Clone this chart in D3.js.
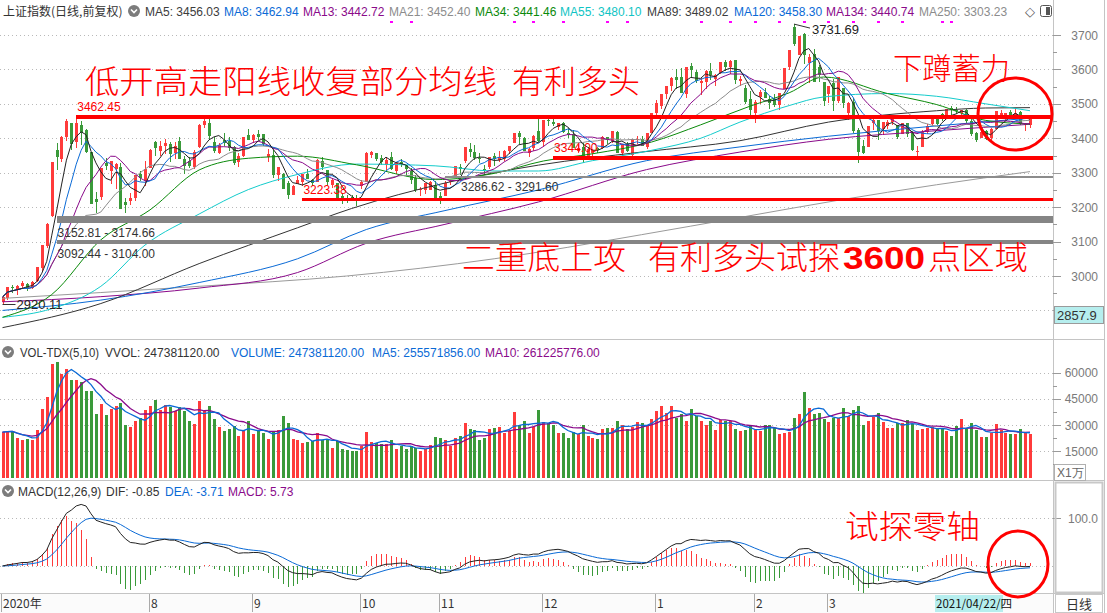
<!DOCTYPE html>
<html>
<head>
<meta charset="utf-8">
<script src="https://cdn.jsdelivr.net/npm/d3@7"></script>
<style>
  body { margin: 0; background: #fff; }
  svg { display: block; font-family: "Liberation Sans", Arial, sans-serif; }
</style>
</head>
<body>
<svg id="chart" width="1107" height="613"></svg>
<script>
// trading days shown, 2020-06-18 .. 2021-04-28
const tradeDays = [
  "2020-06-18","2020-06-19","2020-06-22","2020-06-23","2020-06-24","2020-06-29","2020-06-30",
  "2020-07-01","2020-07-02","2020-07-03","2020-07-06","2020-07-07","2020-07-08","2020-07-09","2020-07-10","2020-07-13","2020-07-14","2020-07-15","2020-07-16","2020-07-17","2020-07-20","2020-07-21","2020-07-22","2020-07-23","2020-07-24","2020-07-27","2020-07-28","2020-07-29","2020-07-30","2020-07-31",
  "2020-08-03","2020-08-04","2020-08-05","2020-08-06","2020-08-07","2020-08-10","2020-08-11","2020-08-12","2020-08-13","2020-08-14","2020-08-17","2020-08-18","2020-08-19","2020-08-20","2020-08-21","2020-08-24","2020-08-25","2020-08-26","2020-08-27","2020-08-28","2020-08-31",
  "2020-09-01","2020-09-02","2020-09-03","2020-09-04","2020-09-07","2020-09-08","2020-09-09","2020-09-10","2020-09-11","2020-09-14","2020-09-15","2020-09-16","2020-09-17","2020-09-18","2020-09-21","2020-09-22","2020-09-23","2020-09-24","2020-09-25","2020-09-28","2020-09-29","2020-09-30",
  "2020-10-09","2020-10-12","2020-10-13","2020-10-14","2020-10-15","2020-10-16","2020-10-19","2020-10-20","2020-10-21","2020-10-22","2020-10-23","2020-10-26","2020-10-27","2020-10-28","2020-10-29","2020-10-30",
  "2020-11-02","2020-11-03","2020-11-04","2020-11-05","2020-11-06","2020-11-09","2020-11-10","2020-11-11","2020-11-12","2020-11-13","2020-11-16","2020-11-17","2020-11-18","2020-11-19","2020-11-20","2020-11-23","2020-11-24","2020-11-25","2020-11-26","2020-11-27","2020-11-30",
  "2020-12-01","2020-12-02","2020-12-03","2020-12-04","2020-12-07","2020-12-08","2020-12-09","2020-12-10","2020-12-11","2020-12-14","2020-12-15","2020-12-16","2020-12-17","2020-12-18","2020-12-21","2020-12-22","2020-12-23","2020-12-24","2020-12-25","2020-12-28","2020-12-29","2020-12-30","2020-12-31",
  "2021-01-04","2021-01-05","2021-01-06","2021-01-07","2021-01-08","2021-01-11","2021-01-12","2021-01-13","2021-01-14","2021-01-15","2021-01-18","2021-01-19","2021-01-20","2021-01-21","2021-01-22","2021-01-25","2021-01-26","2021-01-27","2021-01-28","2021-01-29",
  "2021-02-01","2021-02-02","2021-02-03","2021-02-04","2021-02-05","2021-02-08","2021-02-09","2021-02-10","2021-02-18","2021-02-19","2021-02-22","2021-02-23","2021-02-24","2021-02-25","2021-02-26",
  "2021-03-01","2021-03-02","2021-03-03","2021-03-04","2021-03-05","2021-03-08","2021-03-09","2021-03-10","2021-03-11","2021-03-12","2021-03-15","2021-03-16","2021-03-17","2021-03-18","2021-03-19","2021-03-22","2021-03-23","2021-03-24","2021-03-25","2021-03-26","2021-03-29","2021-03-30","2021-03-31",
  "2021-04-01","2021-04-02","2021-04-06","2021-04-07","2021-04-08","2021-04-09","2021-04-12","2021-04-13","2021-04-14","2021-04-15","2021-04-16","2021-04-19","2021-04-20","2021-04-21","2021-04-22","2021-04-23","2021-04-26","2021-04-27","2021-04-28"
];

const opens = [
  2925,2937,2968,2958,2972,2977,2964,
  2985,3023,3088,3173,3365,3341,3403,3444,3388,3440,3425,3359,3225,3230,3327,3305,3312,3316,3214,3218,3226,3296,3279,
  3314,3389,3362,3378,3382,3358,3391,3339,3335,3318,3376,3440,3444,3390,3357,3396,3392,3376,3332,3348,3409,
  3395,3412,3411,3345,3352,3294,3295,3270,3236,3268,3273,3297,3279,3273,3333,3307,3264,3270,3231,3226,3229,3227,
  3262,3272,3351,3356,3344,3323,3347,3304,3331,3323,3305,3286,3252,3249,3251,3265,
  3232,3232,3275,3289,3316,3334,3370,3360,3344,3312,3316,3349,3338,3341,3364,3385,3414,3402,3356,3371,3420,
  3389,3454,3447,3434,3445,3416,3412,3362,3374,3349,3357,3372,3371,3404,3391,3419,3357,3383,3352,3396,3398,3375,3416,
  3474,3493,3530,3552,3577,3578,3528,3609,3592,3560,3563,3594,3571,3589,3622,3607,3626,3566,3545,3513,
  3474,3519,3535,3515,3515,3496,3543,3606,3722,3643,3704,3618,3646,3608,3563,
  3528,3561,3509,3545,3472,3504,3424,3377,3376,3443,3454,3427,3436,3447,3440,3412,3443,3416,3359,3376,3419,3442,3459,
  3470,3466,3488,3483,3474,3482,3450,3414,3402,3420,3400,3427,3468,3459,3476,3463,3476,3438,3440
];
const highs = [
  2945,2968,2974,2975,2985,2980,2986,
  3025,3091,3153,3332,3387,3407,3457,3444,3462.45,3450,3426,3359,3243,3314,3344,3334,3328,3328,3226,3241,3294,3306,3333,
  3369,3391,3392,3398,3390,3389,3403,3348,3345,3366,3442,3456,3455,3404,3385,3415,3404,3378,3358,3405,3426,
  3411,3425,3413,3368,3367,3318,3299,3277,3264,3290,3297,3311,3283,3340,3346,3307,3283,3271,3240,3235,3236,3236,
  3280,3359,3362,3356,3352,3343,3359,3328,3339,3323,3313,3293,3259,3270,3275,3277,
  3244,3277,3279,3320,3324,3374,3387,3381,3358,3322,3347,3358,3364,3365,3378,3415,3420,3405,3371,3409,3456,
  3452,3465,3456,3445,3447,3431,3423,3380,3386,3374,3368,3376,3407,3405,3421,3420,3383,3388,3397,3407,3406,3415,3474,
  3511,3528,3550,3577,3600,3604,3608,3619,3598,3575,3597,3619,3588,3622,3627,3627,3627,3580,3554,3538,
  3510,3539,3547,3522,3530,3532,3604,3655,3731.69,3697,3705,3645,3658,3612,3564,
  3552,3573,3577,3546,3506,3518,3429,3394,3437,3468,3454,3446,3454,3463,3440,3444,3445,3422,3377,3424,3441,3459,3460,
  3474,3485,3494,3490,3483,3484,3456,3418,3425,3424,3429,3477,3481,3473,3481,3488,3480,3445,3460
];
const lows = [
  2920.11,2930,2951,2944,2965,2955,2962,
  2983,3015,3080,3170,3307,3331,3393,3366,3373,3381,3357,3208,3184,3220,3308,3268,3254,3195,3183,3205,3219,3276,3260,
  3313,3350,3348,3353,3330,3340,3339,3296,3313,3311,3373,3430,3398,3356,3355,3378,3363,3322,3318,3347,3395,
  3387,3394,3379,3332,3285,3276,3254,3223,3235,3267,3260,3283,3260,3272,3307,3260,3257,3221,3210,3211,3220,3202,
  3253,3272,3344,3334,3323,3307,3309,3297,3318,3291,3266,3245,3232,3239,3250,3220,
  3209,3232,3263,3287,3293,3329,3345,3336,3329,3293,3312,3319,3332,3334,3353,3385,3382,3362,3345,3364,3390,
  3376,3437,3435,3424,3414,3400,3372,3357,3327,3343,3347,3356,3370,3384,3386,3356,3346,3360,3350,3383,3379,3369,3416,
  3457,3485,3513,3538,3544,3531,3517,3578,3562,3527,3542,3569,3553,3586,3594,3587,3558,3551,3500,3465,
  3444,3501,3516,3486,3491,3483,3543,3599,3668,3643,3616,3560,3564,3564,3494,
  3502,3480,3502,3489,3453,3416,3328,3353,3375,3425,3396,3410,3427,3439,3399,3412,3404,3364,3345,3376,3413,3436,3438,
  3450,3458,3467,3470,3458,3444,3407,3388,3402,3394,3389,3426,3455,3450,3461,3462,3438,3421,3431
];
const closes = [
  2939,2967,2965,2970,2979,2962,2984,
  3025,3090,3152,3332,3345,3403,3450,3383,3443,3415,3361,3210,3214,3314,3320,3333,3325,3196,3205,3228,3294,3286,3310,
  3367,3371,3377,3386,3354,3379,3340,3319,3320,3360,3438,3451,3408,3363,3380,3385,3373,3329,3350,3403,3395,
  3410,3404,3384,3355,3292,3316,3254,3234,3260,3278,3295,3283,3270,3338,3316,3274,3279,3223,3219,3217,3224,3218,
  3272,3358,3360,3340,3332,3336,3312,3328,3325,3312,3278,3251,3254,3269,3273,3225,
  3225,3271,3277,3320,3312,3374,3360,3342,3339,3310,3347,3340,3347,3363,3378,3414,3403,3362,3370,3408,3392,
  3452,3449,3442,3445,3417,3410,3372,3373,3347,3369,3367,3367,3405,3395,3421,3357,3382,3363,3397,3397,3379,3414,3473,
  3503,3529,3551,3576,3570,3531,3608,3599,3566,3566,3596,3583,3584,3621,3607,3624,3569,3573,3505,3483,
  3505,3534,3517,3502,3496,3532,3603,3655,3675,3696,3642,3636,3564,3585,3509,
  3551,3509,3577,3503,3502,3421,3359,3358,3437,3453,3420,3447,3446,3463,3405,3443,3412,3367,3364,3418,3435,3457,3442,
  3466,3484,3483,3480,3483,3451,3413,3396,3417,3399,3427,3478,3473,3472,3465,3474,3441,3443,3457
];
// volume, unit 10^4 hands
const volumes = [
  25920,26500,26500,22460,21310,21890,21310,
  27070,39170,46080,65090,66240,59330,62210,55870,55870,54720,49540,49540,36290,42050,35710,39170,40900,42620,29950,28800,32260,33980,38590,
  40900,44350,38590,41470,40320,38020,40320,38020,32260,30530,43780,38020,40900,33410,28800,26500,27650,29380,23620,26500,32260,
  24770,26500,25340,21890,25920,27070,35140,31100,21890,21310,19580,20160,20740,25340,21310,21890,16700,20740,16130,15550,14980,14980,
  17860,25920,20160,19580,19010,19010,21310,16130,17860,16130,17860,16700,14980,16130,18430,23040,
  22460,21310,17860,22460,23620,31100,27650,27070,21310,22460,27650,28220,28800,25340,26500,37440,29950,32260,25340,28800,38590,
  31680,31100,29950,25340,25340,22460,25920,24770,29950,23620,22460,21890,27650,28220,28220,32260,29950,27650,28800,31680,31100,29380,33410,
  38020,40900,36860,40900,33980,36290,32260,39170,35140,32260,29950,32260,27070,32830,32260,32260,27650,26500,27070,29380,
  27070,26500,29950,29950,28220,24770,25340,25920,33980,36290,48960,39740,36290,36860,33410,
  31680,33980,33980,39740,35140,38590,40900,29950,32260,34560,36860,31680,28220,28220,31100,31100,32830,30530,27070,27650,28220,28800,27650,
  27650,26500,23620,29380,33410,27650,31100,27070,23040,23040,25340,30530,27070,25340,24770,24770,27650,25920,24738
];

// long moving averages: [day index, value]
const ma34Pts  = [[0,2880],[10,2946],[20,3105],[30,3192],[40,3308],[50,3342],[60,3348],[72,3323],[88,3280],[100,3298],[110,3334],[120,3355],[132,3389],[142,3439],[152,3493],[160,3532],[167,3578],[180,3530],[190,3498],[200,3452],[209,3441.46]];
const ma55Pts  = [[0,2880],[10,2905],[20,2970],[29,3090],[40,3180],[50,3251],[60,3295],[72,3325],[88,3320],[100,3305],[109,3305],[120,3335],[132,3365],[142,3400],[150,3447],[160,3495],[167,3520],[180,3530],[190,3522],[200,3500],[209,3480.10]];
const ma89Pts  = [[0,2850],[20,2920],[40,3036],[60,3140],[71,3196],[90,3270],[109,3322],[130,3360],[150,3393],[168,3447],[190,3480],[200,3488],[209,3489.02]];
const ma120Pts = [[0,2900],[20,2930],[40,2981],[60,3050],[74,3135],[90,3190],[109,3250],[131,3335],[150,3375],[168,3406],[190,3436],[209,3458.30]];
const ma134Pts = [[0,2925],[20,2940],[40,2965],[60,3010],[74,3095],[90,3150],[109,3215],[131,3309],[150,3360],[168,3397],[190,3422],[209,3440.74]];
const ma250Pts = [[0,2935],[40,2970],[70,3000],[100,3050],[130,3120],[150,3170],[170,3220],[190,3265],[209,3303.23]];

const priceTicks = [3000, 3100, 3200, 3300, 3400, 3500, 3600, 3700];
const volTicks = [15000, 30000, 45000, 60000];
const macdTicks = [100];

const monthLabels = ["2020年", "8", "9", "10", "11", "12", "1", "2", "3"];
const monthStarts = ["2020-06-18","2020-08-03","2020-09-01","2020-10-09","2020-11-02","2020-12-01","2021-01-04","2021-02-01","2021-03-01"];

// drawn support / resistance levels
const levelValues = [3462.45, 3344.00, 3223.38];
const levelStarts = ["2020-07-13", "2020-12-03", "2020-09-15"];
const zoneLows  = [3152.81, 3092.44, 3286.62];
const zoneHighs = [3174.66, 3104.00, 3291.60];
const zoneStarts = ["2020-07-07", "2020-07-07", "2020-11-03"];

// small info markers under the header
const markerDays = [79, 83, 104, 108, 114, 123, 127, 142, 148, 153, 158, 163, 168, 173, 178, 183, 191, 193];

const maHeader = [
  ["MA5: 3456.03", "#3c3c3c", 145], ["MA8: 3462.94", "#0a6ad6", 224], ["MA13: 3442.72", "#8a0a8a", 303],
  ["MA21: 3452.40", "#8c8c8c", 389], ["MA34: 3441.46", "#0a8a0a", 475], ["MA55: 3480.10", "#10c4c4", 560],
  ["MA89: 3489.02", "#3c3c3c", 647], ["MA120: 3458.30", "#0a6ad6", 734], ["MA134: 3440.74", "#8a0a8a", 826],
  ["MA250: 3303.23", "#8c8c8c", 919]
];

const RED = "#ff3b3b", GRN = "#3a9a3a", GRID = "#b9b9b9", BORDER = "#c4c4c4";
const AXIS_TXT = "#7a7a7a";
const PLOT_R = 1053;

const svg = d3.select("#chart");
const n = closes.length;
const dayIndex = new Map(tradeDays.map((d, i) => [d, i]));

const x = d3.scaleLinear().domain([0, n - 1]).range([2.5, 1030]);
const px = i => Math.round(x(i));
const yP = d3.scaleLinear().domain([3000, 3700]).range([276, 35]);
const yV = d3.scaleLinear().domain([0, 60000]).range([477.5, 372.5]);
const yM = d3.scaleLinear().domain([0, 100]).range([566, 518]);

const isUp = i => closes[i] >= opens[i];

function sma(arr, len) {
  return arr.map((d, i) => d3.mean(arr.slice(Math.max(0, i - len + 1), i + 1)));
}
function ema(arr, len) {
  const a = 2 / (len + 1);
  let prev = arr[0];
  return arr.map(v => (prev = a * v + (1 - a) * prev));
}

// clip paths
const defs = svg.append("defs");
[["clipMain", 20, 320], ["clipVol", 362, 118], ["clipMacd", 500, 93]].forEach(([id, y0, h]) => {
  defs.append("clipPath").attr("id", id).append("rect").attr("x", 0).attr("y", y0).attr("width", PLOT_R).attr("height", h);
});

// ---------- frame ----------
const frame = svg.append("g").attr("shape-rendering", "crispEdges");
[339.5, 480.5, 593.5].forEach(yy => {
  frame.append("line").attr("x1", 0).attr("x2", 1105).attr("y1", yy).attr("y2", yy).attr("stroke", BORDER);
});
frame.append("line").attr("x1", PLOT_R + 0.5).attr("x2", PLOT_R + 0.5).attr("y1", 0).attr("y2", 613).attr("stroke", BORDER);
frame.append("line").attr("x1", 1104.5).attr("x2", 1104.5).attr("y1", 0).attr("y2", 613).attr("stroke", BORDER);

// ---------- grid ----------
const grid = svg.append("g").attr("stroke", GRID).attr("stroke-dasharray", "1,3").attr("shape-rendering", "crispEdges");
priceTicks.concat([2900]).forEach(v => grid.append("line").attr("x1", 0).attr("x2", PLOT_R).attr("y1", Math.round(yP(v)) + 0.5).attr("y2", Math.round(yP(v)) + 0.5));
volTicks.forEach(v => grid.append("line").attr("x1", 0).attr("x2", PLOT_R).attr("y1", Math.round(yV(v)) + 0.5).attr("y2", Math.round(yV(v)) + 0.5));
macdTicks.concat([0]).forEach(v => grid.append("line").attr("x1", 0).attr("x2", PLOT_R).attr("y1", Math.round(yM(v)) + 0.5).attr("y2", Math.round(yM(v)) + 0.5));

// ---------- right axes ----------
const ax = svg.append("g").attr("font-size", 12).attr("fill", AXIS_TXT);
function rightTicks(scale, major, minorStep, lo, hi) {
  for (let v = lo; v <= hi; v += minorStep) {
    const yy = Math.round(scale(v)) + 0.5;
    const isMajor = major.includes(v);
    ax.append("line").attr("x1", PLOT_R).attr("x2", PLOT_R + (isMajor ? 8 : 4)).attr("y1", yy).attr("y2", yy)
      .attr("stroke", "#9a9a9a").attr("shape-rendering", "crispEdges");
  }
  major.forEach(v => ax.append("text").attr("x", 1098).attr("y", scale(v) + 4.5).attr("text-anchor", "end").text(v));
}
rightTicks(yP, priceTicks, 50, 2900, 3700);
rightTicks(yV, volTicks, 7500, 7500, 60000);
macdTicks.forEach(v => {
  ax.append("line").attr("x1", PLOT_R).attr("x2", PLOT_R + 8).attr("y1", Math.round(yM(v)) + 0.5).attr("y2", Math.round(yM(v)) + 0.5).attr("stroke", "#9a9a9a");
  ax.append("text").attr("x", 1098).attr("y", yM(v) + 4.5).attr("text-anchor", "end").text(d3.format(".1f")(v));
});
svg.append("rect").attr("x", 1055.5).attr("y", 482.5).attr("width", 47).attr("height", 110).attr("fill", "none").attr("stroke", "#c8c8c8").attr("stroke-width", 2);
svg.append("rect").attr("x", 1054.5).attr("y", 306.5).attr("width", 49).attr("height", 17).attr("fill", "#b6eeee").attr("stroke", "#9a9a9a");
svg.append("text").attr("x", 1057).attr("y", 320).attr("font-size", 13).attr("fill", "#333").text("2857.9");
svg.append("rect").attr("x", 1054.5).attr("y", 464.5).attr("width", 31).attr("height", 16).attr("fill", "#fff").attr("stroke", "#b0b0b0");
svg.append("text").attr("x", 1057).attr("y", 477).attr("font-size", 12).attr("fill", "#666").text("X1万");

// ---------- candles ----------
const gMain = svg.append("g").attr("clip-path", "url(#clipMain)");
const idx = d3.range(n);
gMain.append("g").attr("shape-rendering", "crispEdges").selectAll("line").data(idx).join("line")
  .attr("x1", i => px(i) + 0.5).attr("x2", i => px(i) + 0.5)
  .attr("y1", i => yP(highs[i])).attr("y2", i => yP(lows[i]))
  .attr("stroke", i => isUp(i) ? RED : GRN);
gMain.append("g").attr("shape-rendering", "crispEdges").selectAll("rect").data(idx).join("rect")
  .attr("x", i => px(i) - 1).attr("width", 3)
  .attr("y", i => yP(Math.max(opens[i], closes[i])))
  .attr("height", i => Math.max(1, Math.abs(yP(opens[i]) - yP(closes[i]))))
  .attr("fill", i => isUp(i) ? RED : GRN);

// moving averages
const lineIdx = d3.line().x((d, i) => x(i)).y(d => yP(d));
const linePts = d3.line().x(d => x(d[0])).y(d => yP(d[1])).curve(d3.curveMonotoneX);
const gMa = gMain.append("g").attr("fill", "none").attr("stroke-width", 1);
gMa.append("path").attr("d", linePts(ma250Pts)).attr("stroke", "#9a9a9a");
gMa.append("path").attr("d", linePts(ma134Pts)).attr("stroke", "#8a0a8a");
gMa.append("path").attr("d", linePts(ma120Pts)).attr("stroke", "#0a6ad6");
gMa.append("path").attr("d", linePts(ma89Pts)).attr("stroke", "#333");
gMa.append("path").attr("d", linePts(ma55Pts)).attr("stroke", "#14cccc");
gMa.append("path").attr("d", linePts(ma34Pts)).attr("stroke", "#0a8a0a");
gMa.append("path").attr("d", lineIdx(sma(closes, 21))).attr("stroke", "#8c8c8c");
gMa.append("path").attr("d", lineIdx(sma(closes, 13))).attr("stroke", "#8a0a8a");
gMa.append("path").attr("d", lineIdx(sma(closes, 8))).attr("stroke", "#0a6ad6");
gMa.append("path").attr("d", lineIdx(sma(closes, 5))).attr("stroke", "#222");

// ---------- level lines and zones ----------
const gLv = svg.append("g").attr("shape-rendering", "crispEdges");
zoneLows.forEach((lo, k) => {
  const x0 = x(dayIndex.get(zoneStarts[k]));
  const hgt = Math.max(2, yP(lo) - yP(zoneHighs[k]));
  gLv.append("rect").attr("x", x0).attr("y", yP(zoneHighs[k])).attr("width", PLOT_R - x0).attr("height", hgt)
    .attr("fill", k === 2 ? "#8c8c8c" : "#858585");
});
levelValues.forEach((v, k) => {
  const x0 = x(dayIndex.get(levelStarts[k]));
  gLv.append("rect").attr("x", x0).attr("y", yP(v) - 1.5).attr("width", PLOT_R - x0).attr("height", 3.5).attr("fill", "#ff0000");
});

// level labels
const gLab = svg.append("g").attr("font-size", 12);
levelValues.forEach((v, k) => {
  gLab.append("text").attr("x", x(dayIndex.get(levelStarts[k])) + 1).attr("y", yP(v) - 5.5).attr("fill", "#ff0000").text(d3.format(".2f")(v));
});
zoneLows.forEach((lo, k) => {
  const x0 = x(dayIndex.get(zoneStarts[k]));
  gLab.append("text").attr("x", x0 + (k === 2 ? 16 : 1)).attr("y", yP(lo) + 14).attr("fill", "#333")
    .text(d3.format(".2f")(lo) + " - " + d3.format(".2f")(zoneHighs[k]));
});

// extreme labels
const iMax = d3.maxIndex(highs), iMin = d3.minIndex(lows);
svg.append("line").attr("x1", x(iMax)).attr("y1", yP(highs[iMax])).attr("x2", x(iMax) + 16).attr("y2", yP(highs[iMax]) + 4).attr("stroke", "#333");
svg.append("text").attr("x", x(iMax) + 18).attr("y", yP(highs[iMax]) + 10).attr("font-size", 13).attr("fill", "#222").text(d3.format(".2f")(highs[iMax]));
svg.append("line").attr("x1", x(iMin)).attr("y1", yP(lows[iMin]) + 1).attr("x2", x(iMin) + 13).attr("y2", yP(lows[iMin]) + 1).attr("stroke", "#333");
svg.append("text").attr("x", x(iMin) + 14).attr("y", yP(lows[iMin]) + 5).attr("font-size", 13).attr("fill", "#222").text(d3.format(".2f")(lows[iMin]));

// ---------- volume ----------
const gVol = svg.append("g").attr("clip-path", "url(#clipVol)");
gVol.append("g").attr("shape-rendering", "crispEdges").selectAll("rect").data(idx).join("rect")
  .attr("x", i => px(i) - 1).attr("width", 3)
  .attr("y", i => yV(volumes[i])).attr("height", i => yV(0) - yV(volumes[i]))
  .attr("fill", i => isUp(i) ? RED : GRN);
const lineV = d3.line().x((d, i) => x(i)).y(d => yV(d));
gVol.append("path").attr("d", lineV(sma(volumes, 10))).attr("fill", "none").attr("stroke", "#8a0a8a").attr("stroke-width", 1.3);
gVol.append("path").attr("d", lineV(sma(volumes, 5))).attr("fill", "none").attr("stroke", "#0a6ad6").attr("stroke-width", 1.3);

// ---------- MACD ----------
const e12 = ema(closes, 12), e26 = ema(closes, 26);
const dif = e12.map((v, i) => v - e26[i]);
const dea = ema(dif, 9);
const hist = dif.map((v, i) => 2 * (v - dea[i]));
const gM = svg.append("g").attr("clip-path", "url(#clipMacd)");
gM.append("g").attr("shape-rendering", "crispEdges").selectAll("line").data(idx).join("line")
  .attr("x1", i => px(i) + 0.5).attr("x2", i => px(i) + 0.5)
  .attr("y1", yM(0)).attr("y2", i => yM(hist[i]))
  .attr("stroke", i => hist[i] >= 0 ? RED : GRN);
const lineM = d3.line().x((d, i) => x(i)).y(d => yM(d));
gM.append("path").attr("d", lineM(dea)).attr("fill", "none").attr("stroke", "#0a6ad6");
gM.append("path").attr("d", lineM(dif)).attr("fill", "none").attr("stroke", "#222");

// ---------- headers ----------
function icon(cx, cy) {
  svg.append("circle").attr("cx", cx).attr("cy", cy).attr("r", 6).attr("fill", "#7c7c7c");
  svg.append("path").attr("d", `M${cx - 3},${cy - 1.5} L${cx},${cy + 1.5} L${cx + 3},${cy - 1.5}`).attr("fill", "none").attr("stroke", "#fff").attr("stroke-width", 1.6);
}
const hdr = svg.append("g").attr("font-size", 12);
hdr.append("text").attr("x", 3).attr("y", 16).attr("fill", "#333").attr("font-family", "'Noto Sans CJK SC', sans-serif").text("上证指数(日线,前复权)");
icon(134, 11);
maHeader.forEach(([t, c, xx]) => hdr.append("text").attr("x", xx).attr("y", 16).attr("fill", c).text(t));
hdr.append("text").attr("x", 1025).attr("y", 16).attr("font-size", 13).attr("fill", "#555").text("◇");
hdr.append("rect").attr("x", 1040.5).attr("y", 5.5).attr("width", 11).attr("height", 11).attr("rx", 2).attr("fill", "#fff").attr("stroke", "#555");
hdr.append("rect").attr("x", 1046).attr("y", 7).attr("width", 4).attr("height", 8).attr("fill", "#555");
svg.append("g").attr("fill", "#ff00ff").selectAll("rect").data(markerDays).join("rect")
  .attr("x", i => px(i) - 1).attr("y", 21).attr("width", 3).attr("height", 2);

icon(8, 352);
hdr.append("text").attr("x", 20).attr("y", 357).attr("fill", "#333").attr("textLength", 79).attr("lengthAdjust", "spacingAndGlyphs").text("VOL-TDX(5,10)");
hdr.append("text").attr("x", 105).attr("y", 357).attr("fill", "#333").text("VVOL: 247381120.00");
hdr.append("text").attr("x", 231).attr("y", 357).attr("fill", "#0a6ad6").text("VOLUME: 247381120.00");
hdr.append("text").attr("x", 372).attr("y", 357).attr("fill", "#0a6ad6").text("MA5: 255571856.00");
hdr.append("text").attr("x", 485).attr("y", 357).attr("fill", "#8a0a8a").text("MA10: 261225776.00");

icon(8, 491);
hdr.append("text").attr("x", 18).attr("y", 496).attr("fill", "#333").text("MACD(12,26,9)");
hdr.append("text").attr("x", 106).attr("y", 496).attr("fill", "#333").text("DIF: -0.85");
hdr.append("text").attr("x", 165).attr("y", 496).attr("fill", "#0a6ad6").text("DEA: -3.71");
hdr.append("text").attr("x", 228).attr("y", 496).attr("fill", "#8a0a8a").text("MACD: 5.73");

// ---------- date axis ----------
const gx = svg.append("g").attr("font-size", 12).attr("fill", "#333");
gx.append("rect").attr("x", 0).attr("y", 594).attr("width", PLOT_R).attr("height", 19).attr("fill", "#fbfbfb");
monthLabels.forEach((t, k) => {
  const i = dayIndex.get(monthStarts[k]);
  const xx = k === 0 ? 1 : px(i) - 1;
  gx.append("line").attr("x1", xx + 0.5).attr("x2", xx + 0.5).attr("y1", 594).attr("y2", 612).attr("stroke", "#aaa").attr("shape-rendering", "crispEdges");
  gx.append("text").attr("x", xx + 2).attr("y", 608).attr("font-family", "'Noto Sans CJK SC', sans-serif").text(t);
});
gx.append("rect").attr("x", 935).attr("y", 595).attr("width", 68).attr("height", 17).attr("fill", "#b6eeee");
gx.append("text").attr("x", 936).attr("y", 608).attr("font-family", "'Noto Sans CJK SC', sans-serif").attr("font-size", 11.5).attr("fill", "#111").text("2021/04/22/四");
gx.append("rect").attr("x", 1055.5).attr("y", 594.5).attr("width", 47).attr("height", 18).attr("fill", "#fff").attr("stroke", "#c8c8c8");
gx.append("text").attr("x", 1066).attr("y", 609).attr("font-family", "'Noto Sans CJK SC', sans-serif").attr("font-size", 13).text("日线");

// ---------- red hand-drawn notes ----------
const note = svg.append("g").attr("fill", "#ff0000").attr("font-family", "'Noto Sans CJK SC', sans-serif").attr("font-weight", 300);
function noteText(t, xx, yy, size, len) {
  note.append("text").attr("x", xx).attr("y", yy).attr("font-size", size)
    .attr("textLength", len).attr("lengthAdjust", "spacingAndGlyphs").text(t);
}
noteText("低开高走阳线收复部分均线", 85, 93, 32, 412);
noteText("有利多头", 512, 93, 32, 128);
noteText("下蹲蓄力", 893, 79, 30, 117);
noteText("二重底上攻", 462, 269, 32, 164);
noteText("有利多头试探", 648, 269, 32, 192);
note.append("text").attr("x", 843).attr("y", 269).attr("font-size", 32).attr("font-weight", 700)
  .attr("font-family", "'Liberation Sans', Arial, sans-serif").attr("textLength", 82).attr("lengthAdjust", "spacingAndGlyphs").text("3600");
noteText("点区域", 928, 269, 32, 100);
noteText("试探零轴", 845, 538, 32, 135);

svg.append("ellipse").attr("cx", 1015).attr("cy", 114).attr("rx", 37).attr("ry", 36).attr("fill", "none").attr("stroke", "#ff0000").attr("stroke-width", 3);
svg.append("ellipse").attr("cx", 1018).attr("cy", 564).attr("rx", 30).attr("ry", 33).attr("fill", "none").attr("stroke", "#ff0000").attr("stroke-width", 3);
</script>
</body>
</html>
